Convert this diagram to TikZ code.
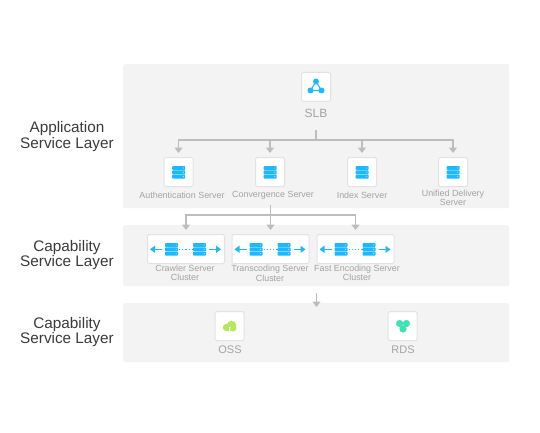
\documentclass[tikz,border=0pt]{standalone}
\usepackage{fontspec}
\setmainfont{Liberation Sans}
\usetikzlibrary{arrows.meta}
\definecolor{panelgray}{HTML}{F3F3F3}
\definecolor{boxline}{HTML}{E2E2E2}
\definecolor{flowgray}{HTML}{BDBDBD}
\definecolor{textgray}{HTML}{A3A3A3}
\definecolor{layertext}{HTML}{3A3A3A}
\definecolor{iconblue}{HTML}{1CB9FF}
\definecolor{iconlime}{HTML}{B7E85A}
\definecolor{iconteal}{HTML}{3FE2B4}
\begin{document}
\begin{tikzpicture}[x=1pt,y=-1pt,
  panel/.style={fill=panelgray,draw=none,rounded corners=2pt,inner sep=0pt,anchor=north west},
  iconbox/.style={fill=white,draw=boxline,line width=1pt,rounded corners=1.5pt,minimum size=29pt,inner sep=0pt},
  clusterbox/.style={iconbox,minimum width=77pt},
  smalltext/.style={text=textgray,align=center,font=\fontsize{8.9}{9.4}\selectfont},
  nametext/.style={text=textgray,font=\fontsize{12}{14}\selectfont},
  layertitle/.style={text=layertext,align=center,font=\fontsize{15.3}{15.8}\selectfont},
  flowline/.style={draw=flowgray,line width=1.4pt},
  flowarrow/.style={flowline,-{Triangle[width=8pt,length=5.5pt]},shorten >=4pt},
  serverstack/.pic={
    \fill[iconblue,rounded corners=0.8pt] (-6.5,-6.3) rectangle (6.5,-2.3);
    \fill[iconblue,rounded corners=0.8pt] (-6.5,-2) rectangle (6.5,2);
    \fill[iconblue,rounded corners=0.8pt] (-6.5,2.3) rectangle (6.5,6.3);
    \fill[white] (4.6,-4.3) circle (0.45);
    \fill[white] (4.6,0) circle (0.45);
    \fill[white] (4.6,4.3) circle (0.45);
  },
  clustericon/.pic={
    \draw[iconblue,line width=1.5pt,-{Triangle[width=7pt,length=5pt]}] (-24,0) -- (-36,0);
    \draw[iconblue,line width=1.5pt,-{Triangle[width=7pt,length=5pt]}] (23,0) -- (35,0);
    \draw[iconblue,line width=1.2pt,dotted] (-7,0) -- (7,0);
    \pic at (-14.5,0) {serverstack};
    \pic at (13.5,0) {serverstack};
  }]
  \useasboundingbox (0,0) rectangle (540,433);
  % layer panels
  \node[panel,minimum width=386pt,minimum height=144pt] (apppanel) at (123,64) {};
  \node[panel,minimum width=386pt,minimum height=61pt] (cappanel) at (123,225) {};
  \node[panel,minimum width=386pt,minimum height=59pt] (storepanel) at (123,303) {};
  % layer titles
  \node[layertitle] (apptitle) at (67,136.5) {Application\\Service Layer};
  \node[layertitle] (captitle) at (67,255) {Capability\\Service Layer};
  \node[layertitle] (storetitle) at (67,332) {Capability\\Service Layer};
  % SLB
  \node[iconbox] (slb) at (316,87) {};
  \node[nametext] (slbname) at (316,113) {SLB};
  \draw[iconblue,line width=1.1pt] (316,81.5) -- (310.5,90.5) -- (321.5,90.5) -- cycle;
  \fill[iconblue] (316,81.5) circle (3) (310.5,90.5) circle (3) (321.5,90.5) circle (3);
  % application servers
  \node[iconbox] (auth) at (178.5,172) {};
  \node[iconbox] (conv) at (270,172) {};
  \node[iconbox] (index) at (362,172) {};
  \node[iconbox] (unified) at (453,172) {};
  \pic at (178.7,172.3) {serverstack};
  \pic at (270.2,172.3) {serverstack};
  \pic at (362.2,172.3) {serverstack};
  \pic at (453.2,172.3) {serverstack};
  \node[smalltext] (authname) at (182,195) {Authentication Server};
  \node[smalltext] (convname) at (273,195) {Convergence Server};
  \node[smalltext] (indexname) at (362,195) {Index Server};
  \node[smalltext] (unifiedname) at (453,198) {Unified Delivery\\Server};
  % cluster boxes
  \node[clusterbox] (crawler) at (186,249) {};
  \node[clusterbox] (transcode) at (270.5,249) {};
  \node[clusterbox] (encode) at (355.5,249) {};
  \pic at (186,249.3) {clustericon};
  \pic at (270.5,249.3) {clustericon};
  \pic at (355.5,249.3) {clustericon};
  \node[smalltext] (crawlername) at (185,273) {Crawler Server\\Cluster};
  \node[smalltext] (transcodename) at (270,273.5) {Transcoding Server\\Cluster};
  \node[smalltext] (encodename) at (357,273) {Fast Encoding Server\\Cluster};
  % storage
  \node[iconbox] (oss) at (229.7,326) {};
  \node[iconbox] (rds) at (402.7,326) {};
  \node[nametext,font=\fontsize{11}{13}\selectfont] (ossname) at (230,349.5) {OSS};
  \node[nametext,font=\fontsize{11}{13}\selectfont] (rdsname) at (403,349.5) {RDS};
  \fill[iconlime] (226.5,327.5) circle (3.7) (231.5,325.5) circle (4.8) (233,328) circle (3.5);
  \fill[iconlime] (226.5,327) rectangle (233,331.3);
  \fill[white] (229,327) -- (230.5,327) -- (230.3,331.3) -- (229.2,331.3) -- cycle;
  \fill[iconteal] (403,329) circle (3.6);
  \fill[iconteal] (399.6,323.5) circle (3.6);
  \fill[iconteal] (406.4,323.5) circle (3.6);
  % SLB to servers
  \coordinate (slbout) at (316,130);
  \coordinate (slbbus) at (316,140);
  \draw[flowline] (slbout) -- (slbbus);
  \draw[flowarrow] (slbbus) -| (auth.north);
  \draw[flowarrow] (slbbus) -| (conv.north);
  \draw[flowarrow] (slbbus) -| (index.north);
  \draw[flowarrow] (slbbus) -| (unified.north);
  % servers to clusters
  \coordinate (convout) at (270.5,205);
  \coordinate (capbus) at (270.5,215);
  \draw[flowline] (convout) -- (capbus);
  \draw[flowarrow] (capbus) -| (crawler.north);
  \draw[flowarrow] (capbus) -| (transcode.north);
  \draw[flowarrow] (capbus) -| (encode.north);
  % clusters to storage
  \coordinate (capout) at (316.5,293);
  \coordinate (storein) at (316.5,307);
  \draw[flowline,-{Triangle[width=8pt,length=5.5pt]}] (capout) -- (storein);
\end{tikzpicture}
\end{document}
